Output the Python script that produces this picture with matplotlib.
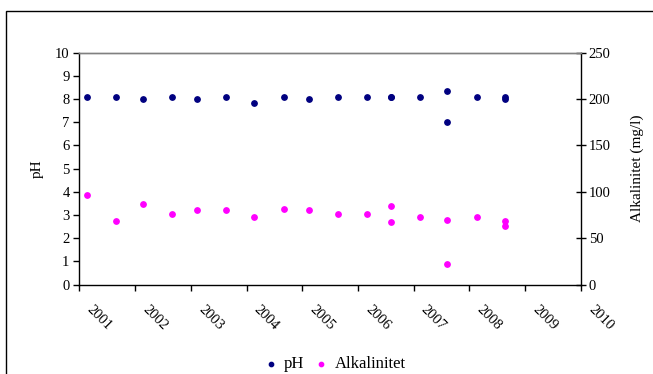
import matplotlib.pyplot as plt
import matplotlib.patches as patches
import matplotlib.transforms as mtransforms

plt.rcParams['font.family'] = ['Liberation Serif', 'DejaVu Serif']

# sampling dates (decimal year)
dates = [2001.13, 2001.65, 2002.14, 2002.66, 2003.12, 2003.64, 2004.13, 2004.67,
         2005.13, 2005.65, 2006.17, 2006.60, 2006.60, 2007.12, 2007.59, 2007.59,
         2008.13, 2008.64, 2008.64]
ph = [8.1, 8.1, 8.0, 8.1, 8.0, 8.1, 7.85, 8.1,
      8.0, 8.1, 8.1, 8.1, 8.1, 8.1, 8.35, 7.0,
      8.1, 8.1, 8.0]
alk = [96.7, 68.6, 87.0, 75.8, 80.1, 80.1, 72.9, 81.6,
       80.1, 75.8, 75.8, 84.5, 67.2, 72.9, 70.0, 22.6,
       72.9, 68.6, 63.3]
years = list(range(2001, 2011))

fig = plt.figure(figsize=(6.53, 3.74), dpi=100)
ax = fig.add_axes([0.1214, 0.2388, 0.7683, 0.6203])
ax2 = ax.twinx()

ax.scatter(dates, ph, s=15, color='#000080', label='pH', zorder=3)
ax2.scatter(dates, alk, s=15, color='#FF00FF', label='Alkalinitet', zorder=3)

ax.set_xlim(2001, 2010)
ax.set_ylim(0, 10)
ax2.set_ylim(0, 250)
ax.set_yticks(range(0, 11))
ax2.set_yticks(range(0, 251, 50))
ax.set_xticks(years)

for a in (ax, ax2):
    for s in a.spines.values():
        s.set_linewidth(1.0)
        s.set_color('black')
    a.spines['top'].set_color('#808080')
ax.spines['right'].set_visible(False)
ax2.spines['left'].set_visible(False)
ax2.spines['bottom'].set_visible(False)

ax.tick_params(axis='y', direction='out', length=4, width=1, labelsize=10.5, pad=3)
ax.tick_params(axis='x', direction='out', length=4, width=1, labelsize=10.5, pad=9)
ax2.tick_params(axis='y', direction='inout', length=7, width=1, labelsize=10.5, pad=2)

offset = mtransforms.ScaledTranslation(5 / 100, 0, fig.dpi_scale_trans)
ax.set_xticklabels([str(y) for y in years], rotation=-45, ha='left', va='top')
for lbl in ax.get_xticklabels():
    lbl.set_transform(lbl.get_transform() + offset)

ax.set_ylabel('pH', fontsize=11, labelpad=8)
ax2.set_ylabel('Alkalinitet (mg/l)', fontsize=11, labelpad=14)

fig.legend(loc='center', bbox_to_anchor=(0.505, 0.026), ncol=2, frameon=False,
           fontsize=12, handletextpad=-0.2, columnspacing=0.0, markerscale=0.8,
           borderaxespad=0)

# outer chart frame
fig.patches.append(patches.Rectangle((5.5 / 653, -0.1), 1.0, (374 - 11) / 374 + 0.1,
                                     transform=fig.transFigure, fill=False,
                                     edgecolor='black', linewidth=1.0))

fig.savefig('out.png', dpi=100)
